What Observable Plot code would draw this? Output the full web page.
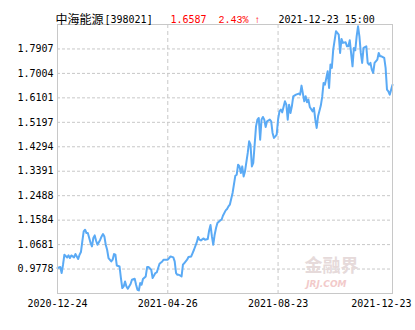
<!DOCTYPE html>
<html><head><meta charset="utf-8">
<script src="https://cdn.jsdelivr.net/npm/d3@7"></script>
<script src="https://cdn.jsdelivr.net/npm/@observablehq/plot@0.6"></script>
<style>body{margin:0;background:#fff;}</style>
</head><body><div id="chart"></div>
<script>
const fundName = "中海能源";
const fundCode = "[398021]";
const latestNav = "1.6587";
const changePct = "2.43% ↑";
const updated = "2021-12-23 15:00";
const tickDays = [0, 80, 160, 243];
const tickDates = ["2020-12-24", "2021-04-26", "2021-08-23", "2021-12-23"];
const yTicks = [0.9778, 1.0681, 1.1584, 1.2488, 1.3391, 1.4294, 1.5197, 1.6101, 1.7004, 1.7907];
const days = [0,2,3,4,5,7,8,9,10,12,13,14,15,16,17,18,19,20,21,22,24,25,26,27,28,29,31,32,33,34,35,36,37,39,40,41,42,43,45,46,47,48,49,50,51,53,54,56,57,58,59,60,61,62,64,65,66,68,69,71,72,74,76,77,80,81,82,84,85,86,87,88,90,91,92,94,95,97,98,99,101,102,103,104,106,107,109,110,111,112,113,114,115,116,118,119,120,122,123,124,125,127,129,130,131,132,133,134,135,136,138,139,140,141,142,144,145,146,147,148,149,150,151,152,154,155,156,157,158,159,160,161,162,163,165,166,167,168,169,170,171,173,175,176,177,179,180,181,182,183,185,186,187,188,189,191,192,193,194,196,197,198,199,200,202,203,204,205,206,207,209,210,211,212,214,215,216,217,218,219,220,221,222,224,225,226,227,228,229,230,232,233,234,235,237,238,239,240,241,243];
const nav = [0.9815,0.9852,0.9630,0.9937,1.0307,1.0207,1.0281,1.0185,1.0281,1.0207,
1.0332,1.0244,1.0148,1.0307,1.0406,1.0798,1.1168,1.1231,1.1109,1.1109,
1.0739,1.0613,1.0924,1.1020,1.0824,1.0676,1.0861,1.0983,1.1072,1.0983,
1.0676,1.0491,1.0185,1.0059,1.0122,1.0332,1.0307,0.9911,0.9874,0.9445,
0.9076,0.9135,0.9320,0.9135,0.9050,0.9224,0.9383,0.9419,0.9198,0.9013,
0.8987,0.9261,0.9198,0.9408,0.9504,0.9852,0.9852,0.9752,0.9445,0.9630,
0.9652,0.9974,1.0059,1.0122,1.0122,1.0185,1.0244,1.0207,1.0059,0.9630,
0.9567,0.9567,0.9504,0.9937,1.0000,1.0122,1.0222,1.0244,1.0369,1.0491,
1.0761,1.0961,1.0861,1.0835,1.0909,1.0861,1.0887,1.1205,1.1404,1.0983,
1.0676,1.1046,1.1293,1.1478,1.1574,1.1600,1.1748,1.1944,1.1996,1.2092,
1.2155,1.2587,1.3226,1.3263,1.3633,1.3570,1.3326,1.3570,1.3200,1.3385,
1.4065,1.4494,1.4372,1.3570,1.3696,1.5048,1.5296,1.5359,1.4557,1.5296,
1.5396,1.5296,1.5026,1.5233,1.5296,1.5233,1.4805,1.4620,1.4679,1.4742,
1.5296,1.5603,1.5666,1.5566,1.5972,1.5850,1.5296,1.5850,1.5544,1.5788,
1.6157,1.6220,1.6257,1.6220,1.6553,1.5972,1.6157,1.5935,1.6035,1.5766,
1.5603,1.5729,1.5296,1.4989,1.5418,1.5814,1.6135,1.6653,1.6590,1.7081,
1.6468,1.7329,1.7207,1.7883,1.8560,1.8501,1.8438,1.7761,1.8279,1.8131,
1.8153,1.8005,1.8005,1.8227,1.7266,1.7946,1.7857,1.8375,1.8745,1.8375,
1.7761,1.7392,1.7946,1.8005,1.7392,1.7329,1.7392,1.7144,1.7022,1.7392,
1.7514,1.7761,1.7636,1.7636,1.7577,1.7207,1.6405,1.6342,1.6220,1.6587];

const series = days.map((d, i) => ({day: d, nav: nav[i]}));
const step = (yTicks[yTicks.length - 1] - yTicks[0]) / (yTicks.length - 1);
const yDomain = [yTicks[0] - step, yTicks[yTicks.length - 1] + step];
const dateOf = d => tickDates[tickDays.indexOf(d)];
const grid = "#c8c8c8";
const mono = "'DejaVu Sans Mono', 'Noto Sans CJK SC', monospace";

const chart = Plot.plot({
  width: 415,
  height: 330,
  marginLeft: 57,
  marginRight: 23,
  marginTop: 24,
  marginBottom: 37,
  style: {fontFamily: mono, fontSize: "10px", background: "#fff", color: "#000"},
  x: {domain: [tickDays[0], tickDays[tickDays.length - 1]], label: null},
  y: {domain: yDomain, label: null},
  marks: [
    Plot.gridY(yTicks, {stroke: grid, strokeOpacity: 1, strokeDasharray: "3,2"}),
    Plot.gridX(tickDays.slice(1, -1), {stroke: grid, strokeOpacity: 1, strokeDasharray: "4,3"}),
    Plot.text(["金融界"], {frameAnchor: "bottom-right", dx: -34, dy: -22, fill: "#e6dada", fontSize: 18, fontWeight: "bold", fontFamily: "'Noto Sans CJK SC'"}),
    Plot.text(["JRJ.COM"], {frameAnchor: "bottom-right", dx: -46, dy: -7, fill: "#f2caca", fontSize: 9, fontStyle: "italic", fontWeight: "bold", fontFamily: "'DejaVu Sans'"}),
    Plot.line(series, {x: "day", y: "nav", stroke: "#5aaaf5", strokeWidth: 2, strokeLinejoin: "round"}),
    Plot.frame({stroke: grid}),
    Plot.axisY(yTicks, {tickSize: 0, tickPadding: 4, tickFormat: d3.format(".4f"), fill: "#000", label: null}),
    Plot.axisX(tickDays.slice(0, -1), {tickSize: 0, tickPadding: 6, tickFormat: dateOf, fill: "#000", label: null}),
    Plot.axisX(tickDays.slice(-1), {tickSize: 0, tickPadding: 6, tickFormat: dateOf, textAnchor: "end", dx: 19, fill: "#000", label: null}),
    Plot.text([fundName], {frameAnchor: "top-left", textAnchor: "start", dx: -2, dy: -9, fontSize: 12, fill: "#000", fontFamily: "'Noto Sans CJK SC'"}),
    Plot.text([fundCode], {frameAnchor: "top-left", textAnchor: "start", dx: 47, dy: -9, fill: "#000"}),
    Plot.text([latestNav], {frameAnchor: "top-left", textAnchor: "start", dx: 113, dy: -9, fill: "#ff0000"}),
    Plot.text([changePct], {frameAnchor: "top-left", textAnchor: "start", dx: 161, dy: -9, fill: "#ff0000", fontFamily: "'Liberation Mono', 'DejaVu Sans', monospace"}),
    Plot.text([updated], {frameAnchor: "top-left", textAnchor: "start", dx: 221, dy: -9, fill: "#000"})
  ]
});
document.getElementById("chart").appendChild(chart);
</script>
</body></html>
